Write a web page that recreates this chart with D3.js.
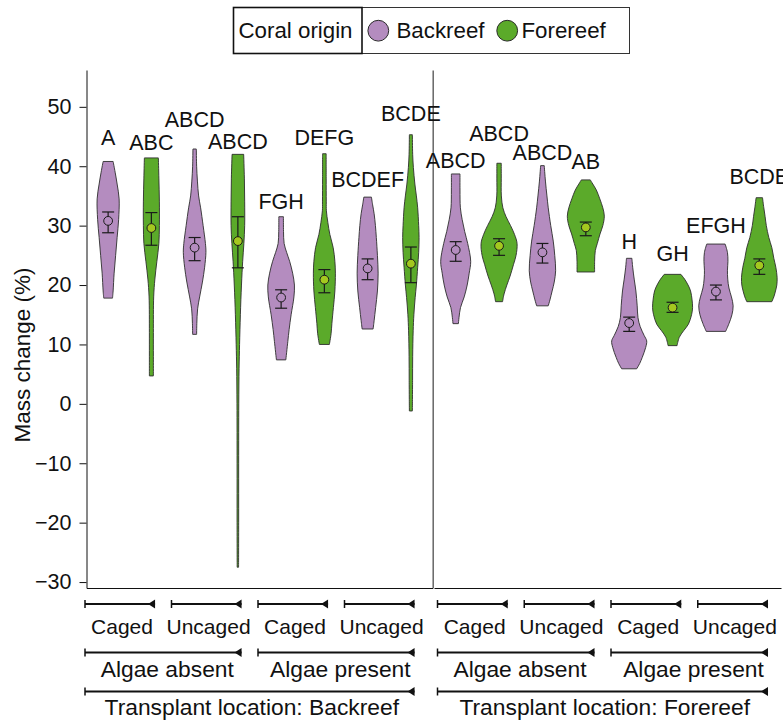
<!DOCTYPE html>
<html><head><meta charset="utf-8">
<script src="https://cdn.jsdelivr.net/npm/d3@7"></script>
<style>body{margin:0;background:#fff} text{font-family:"Liberation Sans",Arial,Helvetica,sans-serif;fill:#111}</style>
</head><body><svg id="c" width="783" height="722"></svg>
<script>
// ---------------- DATA ----------------
const locationLabels = ["Transplant location: Backreef","Transplant location: Forereef"];
const algaeLevels = ["Algae absent","Algae present"];
const cageLevels = ["Caged","Uncaged"];
const originLevels = ["Backreef","Forereef"];
const yTicks = [-30,-20,-10,0,10,20,30,40,50];

// one entry per violin, ordered location > algae > cage > origin
const violinLocation = [0,0,0,0,0,0,0,0, 1,1,1,1,1,1,1,1];
const violinAlgae    = [0,0,0,0,1,1,1,1, 0,0,0,0,1,1,1,1];
const violinCage     = [0,0,1,1,0,0,1,1, 0,0,1,1,0,0,1,1];
const violinOrigin   = [0,1,0,1,0,1,0,1, 0,1,0,1,0,1,0,1];
const meanValues = [30.8,29.6,26.3,27.4,17.9,20.9,22.8,23.6, 25.9,26.6,25.5,29.7,13.6,16.2,18.9,23.3];
const errLow     = [28.8,26.7,24.1,22.9,16.1,18.7,20.9,20.4, 24.0,25.0,23.7,28.3,12.2,15.4,17.5,21.8];
const errHigh    = [32.3,32.2,28.0,31.5,19.2,22.6,24.4,26.4, 27.3,27.8,27.0,30.6,14.6,17.1,20.0,24.4];
const letters = ["A","ABC","ABCD","ABCD","FGH","DEFG","BCDEF","BCDE","ABCD","ABCD","ABCD","AB","H","GH","EFGH","BCDE"];
const letterY = [44.9,44.0,47.8,44.2,34.0,44.9,37.8,48.9, 41.0,45.5,42.4,40.8,27.3,25.3,30.1,38.2];

// violin density profiles: [mass change value, relative density]
const violinProfiles = [
 [[40.8,5],[39,7],[37,9],[34.5,11],[31,10.5],[28,9],[25,7.5],[22,6],[19,5],[17.8,4.4]],
 [[41.4,7],[38,7.5],[34,8],[30,8],[27,7.5],[24,5.5],[21,3.5],[18,2.3],[12,2],[8,2],[4.7,2]],
 [[42.9,1.7],[40,2],[37.5,2.8],[35,4],[33,6],[30,8.5],[27,10.8],[25.5,11.3],[23,10],[20.5,7.8],[18,5],[16,3],[13.5,2.2],[11.7,2]],
 [[42,5.8],[38,6.5],[34,6.8],[30,6.8],[27,6],[24,4.8],[20,3.6],[15,2.5],[10,1.7],[6,1.2],[0,0.9],[-10,0.8],[-20,0.8],[-27.5,0.7]],
 [[31.5,2.3],[29,2.4],[27,3],[25.5,5.5],[24,8.5],[22,11.5],[20,13.3],[18,12.8],[15,10],[12.5,8],[10.5,6.7],[7.4,4.7]],
 [[42.1,1.8],[38,1.8],[34,1.9],[32.5,2],[30.5,3.5],[28.5,5.5],[26.3,8.8],[24,10.5],[22,11],[19,10.5],[16.2,9],[13.5,7.5],[11.8,6.7],[10,5]],
 [[34.8,3.8],[33.5,5],[32,6.5],[30,7.8],[28,8.7],[25,9.8],[22,10.5],[19,9.8],[16.2,8],[14,6.5],[12.6,5.5]],
 [[45.3,1.5],[42,1.8],[39.8,2.5],[37,4],[35,5.5],[33,6.8],[30,7.8],[28,8.2],[25.5,7.8],[23,6.8],[20,5.5],[17.9,4.3],[15,3],[12.3,2.3],[8,1.8],[3.9,1.7],[-1.2,1.5]],
 [[38.7,4.3],[36,4.3],[33,4.7],[31,6.5],[29,9],[27,12],[24,15],[22,13.5],[20,11.5],[18,8.5],[16.2,4.8],[14.5,3.3],[13.5,2.7]],
 [[40.5,2.2],[38,2.2],[35,2.3],[33,3.8],[31.5,7],[30,11.5],[28.5,15.5],[27,18],[25,17],[23.5,14.5],[21.5,11],[20,7.8],[18.5,5],[17.2,3.5]],
 [[40.1,1.8],[37.5,3],[35,4.5],[33,5.8],[30,8.3],[27.4,10.8],[25,12.3],[22.4,13.2],[20.5,11.8],[19,9.7],[17.5,7.5],[16.5,5.8]],
 [[37.7,4.5],[37,7],[36,10.5],[34.5,14],[33,17],[31.6,18.5],[30,17],[28.6,14.2],[27,11.5],[25.8,9.5],[24,8.8],[22.2,8.8]],
 [[24.5,2.7],[23,3.5],[21,5],[19,6.7],[16.5,8],[14.5,8.8],[13,11],[11.5,15],[10.6,17.5],[9.5,16.5],[7.8,13],[6.8,10.5],[5.9,7.5]],
 [[21.8,8.3],[21,12],[20,15.5],[19,18],[17.5,19.5],[16.2,20],[15,19],[13.4,15.8],[12.3,11],[11.2,6.7],[9.8,4.5]],
 [[26.9,9.2],[25.5,11.5],[24,12],[22.5,11.5],[21,11.8],[19.5,13],[18,15.5],[16.5,17.2],[15,16],[13.5,13],[12.2,9.7]],
 [[34.7,3.2],[33,4.5],[31.5,5.8],[30,7],[28,9.5],[26.3,12.5],[24.5,14.5],[23,16.5],[21.3,17.8],[20,17.5],[19,16.2],[18,14.5],[17.2,12.5]]
];

// ---------------- LAYOUT ----------------
const svg = d3.select("#c");
const fillColor = ["#b48cbf", "#5baa2a"];
const meanFill = ["#b48cbf", "#a4c81f"];
const plotTop = 70, plotBottom = 588;
const panelRange = [[86.5, 432.5], [434, 781]];
const fs = 21.5;

const y = d3.scaleLinear().domain([-31.0, 56.2]).range([plotBottom, plotTop]);
const xPanel = panelRange.map(r => d3.scaleBand().domain(d3.range(8)).range(r));
const w = d3.scaleLinear().domain([0, 20]).range([0, 20]);

// axes
const yAxis = svg.append("g").attr("transform", `translate(${panelRange[0][0]},0)`)
  .call(d3.axisLeft(y).tickValues(yTicks).tickSize(7).tickSizeOuter(0).tickPadding(8));
yAxis.select(".domain").attr("stroke", "#111");
yAxis.selectAll(".tick line").attr("stroke", "#111");
yAxis.selectAll(".tick text").style("font-size", "21.5px").style("font-family", "'Liberation Sans',Arial,sans-serif").attr("fill", "#111");

// divider (right panel axis line)
svg.append("g").attr("transform", `translate(${panelRange[1][0]-1.3},0)`)
  .call(d3.axisLeft(y).tickValues([]).tickSizeOuter(0))
  .select(".domain").attr("stroke", "#666").attr("stroke-width", 1.5);

panelRange.forEach((r, p) => {
  svg.append("g").attr("transform", `translate(0,${plotBottom})`)
    .call(d3.axisBottom(xPanel[p]).tickValues([]).tickSizeOuter(0))
    .select(".domain").attr("stroke", "#111");
});

// y-axis title
svg.append("text").attr("transform", `translate(22,355) rotate(-90)`)
  .attr("text-anchor", "middle").attr("dy", "0.35em").style("font-size", "22.5px").text("Mass change (%)");

// violins
const area = d3.area().curve(d3.curveCatmullRom.alpha(0.5));
violinProfiles.forEach((prof, i) => {
  const p = violinLocation[i];
  const slot = violinAlgae[i]*4 + violinCage[i]*2 + violinOrigin[i];
  const cx = xPanel[p](slot) + xPanel[p].bandwidth()/2;
  area.y(d => y(d[0])).x0(d => cx - w(d[1])).x1(d => cx + w(d[1]));
  svg.append("path").attr("d", area(prof))
    .attr("fill", fillColor[violinOrigin[i]]).attr("stroke", "#2e2e2e").attr("stroke-width", 0.9);
  const eb = svg.append("g").attr("stroke", "#1a1a1a").attr("stroke-width", 1.2);
  eb.append("line").attr("x1", cx).attr("x2", cx).attr("y1", y(errLow[i])).attr("y2", y(errHigh[i]));
  [errLow[i], errHigh[i]].forEach(v => eb.append("line").attr("x1", cx-6).attr("x2", cx+6).attr("y1", y(v)).attr("y2", y(v)));
  svg.append("circle").attr("cx", cx).attr("cy", y(meanValues[i])).attr("r", 4.4)
    .attr("fill", meanFill[violinOrigin[i]]).attr("stroke", "#1a1a1a").attr("stroke-width", 1);
  svg.append("text").attr("x", cx).attr("y", y(letterY[i])).attr("dy", "0.35em")
    .attr("text-anchor", "middle").style("font-size", fs + "px").text(letters[i]);
});

// nested x-axis brackets
function bracket(x1, x2, yy) {
  const g = svg.append("g");
  g.append("line").attr("x1", x1).attr("x2", x2).attr("y1", yy).attr("y2", yy).attr("stroke", "#111").attr("stroke-width", 2);
  g.append("line").attr("x1", x1).attr("x2", x1).attr("y1", yy-4).attr("y2", yy+4).attr("stroke", "#111").attr("stroke-width", 1.5);
  g.append("path").attr("d", `M${x2-7},${yy}L${x2},${yy-4.5}L${x2},${yy+4.5}Z`).attr("fill", "#111");
}
function label(txt, x, yy, size) {
  svg.append("text").attr("x", x).attr("y", yy).attr("dy", "0.35em").attr("text-anchor", "middle")
    .style("font-size", size + "px").text(txt);
}
const row1 = 604, row2 = 652.5, row3 = 691.5;
const offs = [-1.5, 3.5];
panelRange.forEach((r, p) => {
  const sc = xPanel[p], bw = sc.bandwidth();
  const spans = [];
  algaeLevels.forEach((al, a) => {
    const sub = [];
    cageLevels.forEach((cg, c) => {
      const x1 = sc(a*4 + c*2) + offs[p], x2 = x1 + 1.62*bw;
      bracket(x1, x2, row1);
      label(cg, (x1+x2)/2 + 2, 627, 21);
      sub.push([x1, x2]);
    });
    const a1 = sub[0][0], a2 = sub[1][1];
    bracket(a1, a2, row2);
    label(al, (a1+a2)/2 + 4, 669, 22.8);
    spans.push([a1, a2]);
  });
  bracket(spans[0][0], spans[1][1], row3);
  label(locationLabels[p], (spans[0][0]+spans[1][1])/2 + 2, 707, 22.8);
});

// legend
const lg = svg.append("g");
lg.append("rect").attr("x", 233.5).attr("y", 7.5).attr("width", 396).attr("height", 46)
  .attr("fill", "#fff").attr("stroke", "#333").attr("stroke-width", 1);
lg.append("rect").attr("x", 233.5).attr("y", 7.5).attr("width", 128.5).attr("height", 46)
  .attr("fill", "none").attr("stroke", "#111").attr("stroke-width", 1.6);
lg.append("text").attr("x", 238.5).attr("y", 30).attr("dy", "0.35em").style("font-size", "22.3px").text("Coral origin");
const keyX = [378.3, 507.2], keyTx = [396.5, 521.5];
originLevels.forEach((o, k) => {
  lg.append("circle").attr("cx", keyX[k]).attr("cy", 30.7).attr("r", 10.4)
    .attr("fill", fillColor[k]).attr("stroke", "#2a2a2a").attr("stroke-width", 1);
  lg.append("text").attr("x", keyTx[k]).attr("y", 30).attr("dy", "0.35em").style("font-size", "22.3px").text(o);
});
</script></body></html>
